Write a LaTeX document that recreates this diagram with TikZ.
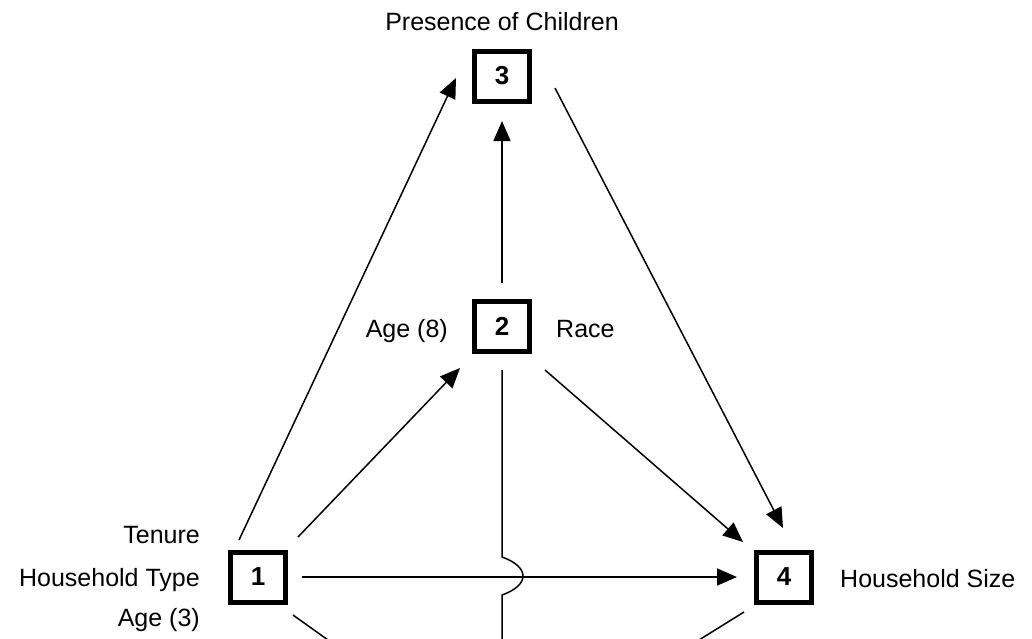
\documentclass[tikz,border=0pt]{standalone}
\usepackage{fontspec}
\setmainfont{Liberation Sans}
\usetikzlibrary{arrows.meta,calc}
\begin{document}
\begin{tikzpicture}[x=1pt,y=-1pt,
  every node/.style={font=\fontsize{25}{30}\selectfont},
  box/.style={draw,line width=5pt,minimum width=55pt,minimum height=50pt,inner sep=0pt,font=\fontsize{26}{30}\selectfont\bfseries},
  lbl/.style={inner sep=0pt},
  conn/.style={line width=1.5pt},
  arr/.style={conn,-{Triangle[length=20pt,width=17pt]}}]
\useasboundingbox (0,0) rectangle (1032,638);
\clip (0,0) rectangle (1032,638);
% boxes
\node[box] (n1) at (258,577) {1};
\node[box] (n2) at (502,326) {2};
\node[box] (n3) at (502,76) {3};
\node[box] (n4) at (784,577) {4};
% labels
\node[lbl,anchor=base] (lp) at (502,30) {Presence of Children};
\node[lbl,anchor=base east] (la8) at (448,337) {Age (8)};
\node[lbl,anchor=base west] (lr) at (556,337) {Race};
\node[lbl,anchor=base east] (lt) at (200,543) {Tenure};
\node[lbl,anchor=base east] (lht) at (200,586) {Household Type};
\node[lbl,anchor=base east] (la3) at (200,626) {Age (3)};
\node[lbl,anchor=base west] (lhs) at (840,587) {Household Size};
% connectors
\draw[arr] ($(n1)+(-19,-37)$) -- ($(n3)+(-46,2)$);
\draw[arr] ($(n1)+(40,-40)$) -- ($(n2)+(-42,42)$);
\draw[arr] ($(n1)+(44,0)$) -- ($(n4)+(-47,0)$);
\draw[arr] ($(n2)+(0,-43)$) -- ($(n3)+(0,45)$);
\draw[arr] ($(n3)+(53,12)$) -- ($(n4)+(-1,-49)$);
\draw[arr] ($(n2)+(43,44)$) -- ($(n4)+(-41,-35)$);
\coordinate (hopa) at (502,557);
\coordinate (hopb) at (502,595);
\coordinate (down2) at (502,670);
\draw[conn] ($(n2)+(0,44)$) -- (hopa) .. controls (530,567) and (530,585) .. (hopb) -- (down2);
\coordinate (down1) at (349,655);
\coordinate (down4) at (670,658);
\draw[conn] ($(n1)+(35,38)$) -- (down1);
\draw[conn] ($(n4)+(-40,35)$) -- (down4);
\end{tikzpicture}
\end{document}
